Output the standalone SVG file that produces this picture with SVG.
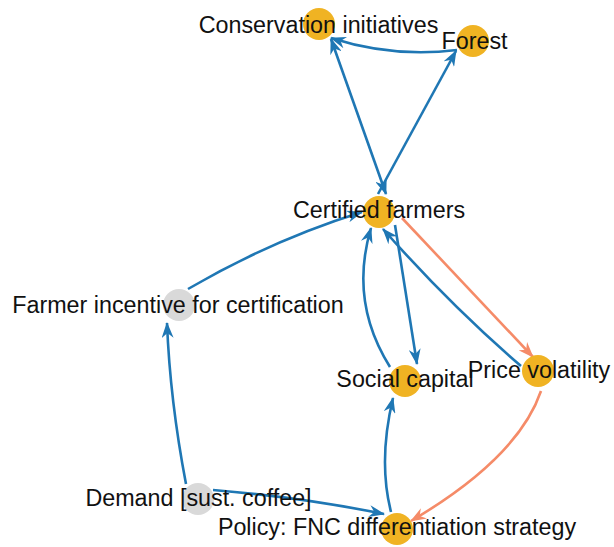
<svg xmlns="http://www.w3.org/2000/svg" width="614" height="547" viewBox="0 0 614 547">
<defs>
<style>
.e{fill:none;stroke-width:2.6}
.b{stroke:#1f77b4}
.s{stroke:#f58b68}
.n{fill:#f0b323}
.g{fill:#d9d9d9}
text{font-family:"Liberation Sans",Arial,sans-serif;font-size:23.3px;fill:#111;text-anchor:middle}
</style>
<marker id="hb" viewBox="0 0 16 12" refX="15" refY="6" markerWidth="16" markerHeight="12" markerUnits="userSpaceOnUse" orient="auto-start-reverse"><path d="M0,0 L16,6 L0,12 L5,6 z" fill="#1f77b4"/></marker>
<marker id="hs" viewBox="0 0 16 12" refX="15" refY="6" markerWidth="16" markerHeight="12" markerUnits="userSpaceOnUse" orient="auto-start-reverse"><path d="M0,0 L16,6 L0,12 L5,6 z" fill="#f58b68"/></marker>
</defs>
<g id="edges">
<path class="e b" d="M457,50 Q393,58 331,38" marker-end="url(#hb)"/>
<path class="e b" d="M386,194 L331,39" marker-end="url(#hb)" marker-start="url(#hb)"/>
<path class="e b" d="M378,194 L456,51" marker-end="url(#hb)"/>
<path class="e b" d="M188,289 Q272,240 362,212" marker-end="url(#hb)"/>
<path class="e b" d="M186,484 Q170,400 167,323" marker-end="url(#hb)"/>
<path class="e b" d="M213,490 Q300,497 384,514" marker-end="url(#hb)"/>
<path class="e b" d="M391,512 Q378,461 393,398" marker-end="url(#hb)"/>
<path class="e b" d="M390,367 Q349,302 371,228" marker-end="url(#hb)"/>
<path class="e b" d="M395,225 L417,364" marker-end="url(#hb)"/>
<path class="e b" d="M521,366 Q450,305 383,229" marker-end="url(#hb)"/>
<path class="e s" d="M402,218 L533,357" marker-end="url(#hs)"/>
<path class="e s" d="M541,391 Q518,458 411,521" marker-end="url(#hs)"/>
</g>
<g id="conservation"><circle class="n" cx="319" cy="24" r="16"/><text x="318.5" y="33">Conservation initiatives</text></g>
<g id="forest"><circle class="n" cx="473" cy="41" r="16"/><text x="474.5" y="49">Forest</text></g>
<g id="certified"><circle class="n" cx="379" cy="212" r="16"/><text x="379" y="218">Certified farmers</text></g>
<g id="incentive"><circle class="g" cx="179" cy="305" r="16"/><text x="178" y="313">Farmer incentive for certification</text></g>
<g id="social"><circle class="n" cx="405" cy="381" r="16"/><text x="405" y="387">Social capital</text></g>
<g id="price"><circle class="n" cx="538" cy="371" r="16"/><text x="539" y="378">Price volatility</text></g>
<g id="demand"><circle class="g" cx="198" cy="499" r="16"/><text x="198.5" y="506">Demand [sust. coffee]</text></g>
<g id="policy"><circle class="n" cx="397" cy="529" r="16"/><text x="397" y="535">Policy: FNC differentiation strategy</text></g>
</svg>
